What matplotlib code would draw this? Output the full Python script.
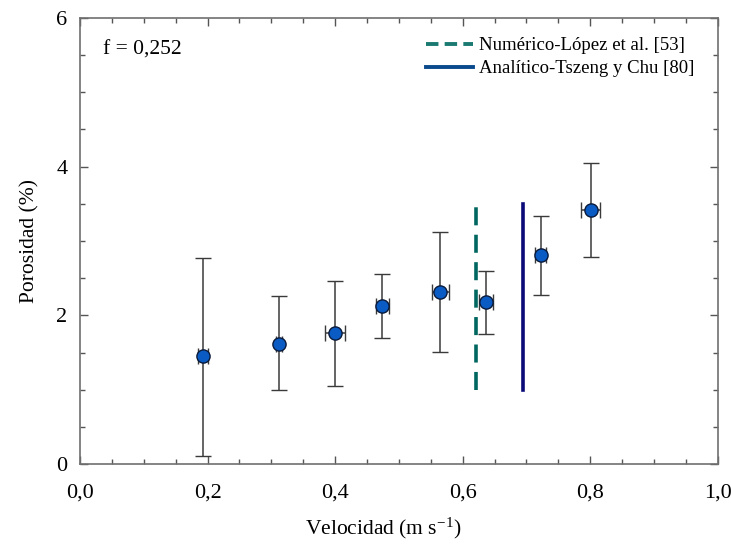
import matplotlib
matplotlib.use("Agg")
import matplotlib.pyplot as plt
from matplotlib.lines import Line2D
from matplotlib.ticker import MultipleLocator, FixedLocator

plt.rcParams['font.family'] = ['Liberation Serif', 'DejaVu Serif']
plt.rcParams['mathtext.fontset'] = 'custom'
plt.rcParams['mathtext.rm'] = 'Liberation Serif'
plt.rcParams['mathtext.it'] = 'Liberation Serif:italic'

# Measured porosity vs. velocity
velocidad = [0.193, 0.312, 0.400, 0.474, 0.565, 0.636, 0.722, 0.801]
porosidad = [1.45, 1.62, 1.76, 2.13, 2.32, 2.18, 2.81, 3.42]
err_sup = [2.77, 2.26, 2.46, 2.55, 3.12, 2.60, 3.33, 4.05]
err_inf = [0.11, 0.99, 1.05, 1.69, 1.51, 1.75, 2.28, 2.79]
err_vel = [0.008, 0.004, 0.016, 0.010, 0.013, 0.011, 0.008, 0.015]

# Predicted critical velocities
v_numerico = 0.621
v_analitico = 0.694
rango_linea = [1.0, 3.5]

x_ticks = [0.0, 0.2, 0.4, 0.6, 0.8, 1.0]
x_ticklabels = ['0,0', '0,2', '0,4', '0,6', '0,8', '1,0']
y_ticks = [0, 2, 4, 6]

fig = plt.figure(figsize=(7.31, 5.45), dpi=100)
ax = fig.add_axes([0.1094, 0.1486, 0.8726, 0.8184])

yerr = [[p - lo for p, lo in zip(porosidad, err_inf)],
        [hi - p for p, hi in zip(porosidad, err_sup)]]
ax.errorbar(velocidad, porosidad, yerr=yerr, xerr=err_vel, fmt='o',
            ms=9.5, mfc='#0a5cc4', mec='#0a1a3a', mew=1.0,
            ecolor='#3a3a3a', elinewidth=1.1, capsize=6, capthick=1.1, zorder=3)

ax.plot([v_numerico, v_numerico], rango_linea, ls=(0, (5, 2.6)), lw=2.6,
        color='#006660', zorder=2)
ax.plot([v_analitico, v_analitico], rango_linea, ls='-', lw=2.6,
        color='#0a0a78', zorder=2)

handles = [Line2D([], [], ls=(0, (3.2, 1.6)), lw=2.8, color='#1a7a72'),
           Line2D([], [], ls='-', lw=2.8, color='#0a4a8c')]
ax.legend(handles, ['Numérico-López et al. [53]', 'Analítico-Tszeng y Chu [80]'],
          loc='upper right', frameon=False, fontsize=13.5, handlelength=2.5,
          handletextpad=0.35, labelspacing=0.32, borderaxespad=0.5,
          bbox_to_anchor=(0.99, 0.995))

ax.text(0.036, 0.928, 'f = 0,252', transform=ax.transAxes, fontsize=15.5,
        va='center', ha='left')

ax.set_xlim(0, 1.0)
ax.set_ylim(0, 6)
ax.xaxis.set_major_locator(FixedLocator(x_ticks))
ax.set_xticklabels(x_ticklabels)
ax.xaxis.set_minor_locator(MultipleLocator(0.05))
ax.yaxis.set_major_locator(FixedLocator(y_ticks))
ax.yaxis.set_minor_locator(MultipleLocator(0.5))

ax.tick_params(which='both', direction='in', top=True, right=True,
               color='#555555', labelsize=16, width=1.0)
ax.tick_params(which='major', length=6, pad=9)
ax.tick_params(axis='x', which='major', pad=14)
ax.tick_params(which='minor', length=3.5)
for s in ax.spines.values():
    s.set_color('#707070')
    s.set_linewidth(1.2)

ax.set_xlabel('Velocidad (m s$^{\\mathrm{-1}}$)', fontsize=15.5)
ax.xaxis.set_label_coords(0.476, -0.115)
ax.set_ylabel('Porosidad (%)', fontsize=15.5, labelpad=12)

fig.savefig('out.png', dpi=100)
